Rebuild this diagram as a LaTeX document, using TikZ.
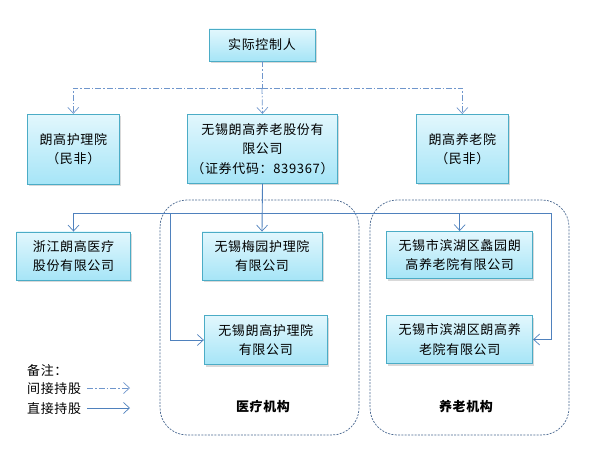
\documentclass[tikz,border=0pt]{standalone}
\usepackage{fontspec}
\setmainfont{Noto Sans CJK SC}[LetterSpace=5]
\usetikzlibrary{arrows.meta,shadows}
\definecolor{boxborder}{HTML}{4BACC6}
\definecolor{boxtop}{HTML}{E2F7FD}
\definecolor{boxbot}{HTML}{A6E5F7}
\definecolor{linecol}{HTML}{4F81BD}
\definecolor{dashcol}{HTML}{6F96CC}
\definecolor{groupcol}{HTML}{4A6890}
\tikzset{
  orgbox/.style={draw=boxborder, line width=0.9pt, top color=boxtop, bottom color=boxbot,
    align=center, inner sep=0pt, font=\fontsize{13}{19.5}\selectfont,
    drop shadow={shadow xshift=1.5pt, shadow yshift=-2pt, opacity=0.25, fill=black!60}},
  direct/.style={draw=linecol, line width=0.9pt, -{Straight Barb[length=6pt,width=11pt,line width=0.7pt]}},
  indirect/.style={draw=dashcol, line width=0.8pt, dash pattern=on 6pt off 2pt on 1.5pt off 2pt,
    -{Straight Barb[length=6pt,width=11pt,line width=0.7pt,sep=0pt]}},
  indirectplain/.style={draw=dashcol, line width=0.8pt, dash pattern=on 6pt off 2pt on 1.5pt off 2pt},
  groupbox/.style={draw=groupcol, line width=0.7pt, dash pattern=on 2pt off 1.3pt, rounded corners=27pt},
  grouplabel/.style={font=\fontsize{13}{15}\selectfont\bfseries},
  legendtext/.style={anchor=west, inner sep=0pt, font=\fontsize{13}{15}\selectfont}
}
\begin{document}
\begin{tikzpicture}[x=1pt,y=-1pt]
\useasboundingbox (0,0) rectangle (589,449);
% group frames
\draw[groupbox] (160,200) rectangle (359,435);
\draw[groupbox] (370,200) rectangle (569,435);
% nodes
\node[orgbox, minimum width=106pt, minimum height=32pt] (boss) at (262,45) {实际控制人};
\node[orgbox, minimum width=92pt, minimum height=70pt] (lhl) at (73.3,149.3) {朗高护理院\\（民非）};
\node[orgbox, minimum width=150pt, minimum height=69pt] (mid) at (262.5,148.8) {无锡朗高养老股份有\\限公司\\ （证券代码：839367）};
\node[orgbox, minimum width=92pt, minimum height=69pt] (lyl) at (462.3,149) {朗高养老院\\（民非）};
\node[orgbox, minimum width=114pt, minimum height=48pt] (zj) at (73.5,256) {浙江朗高医疗\\股份有限公司};
\node[orgbox, minimum width=120pt, minimum height=48pt] (my) at (262,256) {无锡梅园护理院\\有限公司};
\node[orgbox, minimum width=123pt, minimum height=49pt] (lh) at (265.8,340) {无锡朗高护理院\\有限公司};
\node[orgbox, minimum width=146pt, minimum height=47pt] (xy) at (459.7,255) {无锡市滨湖区蠡园朗\\高养老院有限公司};
\node[orgbox, minimum width=146pt, minimum height=48pt] (ly) at (459.7,339.5) {无锡市滨湖区朗高养\\老院有限公司};
% group labels
\node[grouplabel] (g1) at (263,407) {医疗机构};
\node[grouplabel] (g2) at (466,407) {养老机构};
% indirect connectors
\coordinate (dbus) at (262,88);
\draw[indirectplain] (boss.south) -- (dbus);
\draw[indirect] (dbus) -| (lhl.north);
\draw[indirect] (dbus) -| (lyl.north);
\draw[indirect] (dbus) -- (mid.north);
% direct connectors
\coordinate (bus) at (262,213);
\coordinate (tl) at (170,213);
\coordinate (tr) at (551,213);
\draw[direct] (mid.south) -- (my.north);
\draw[direct] (bus) -| (zj.north);
\draw[direct] (bus) -| (xy.north);
\draw[direct] (bus) -- (tl) |- (lh.west);
\draw[direct] (bus) -- (tr) |- (ly.east);
% legend
\node[legendtext] (note) at (27,371) {备注：};
\node[legendtext] (ind) at (27,389) {间接持股};
\node[legendtext] (dir) at (27,409) {直接持股};
\coordinate (ia) at (87,388);
\coordinate (ib) at (130,388);
\coordinate (da) at (87,408);
\coordinate (db) at (130,408);
\draw[indirect] (ia) -- (ib);
\draw[direct] (da) -- (db);
\end{tikzpicture}
\end{document}
